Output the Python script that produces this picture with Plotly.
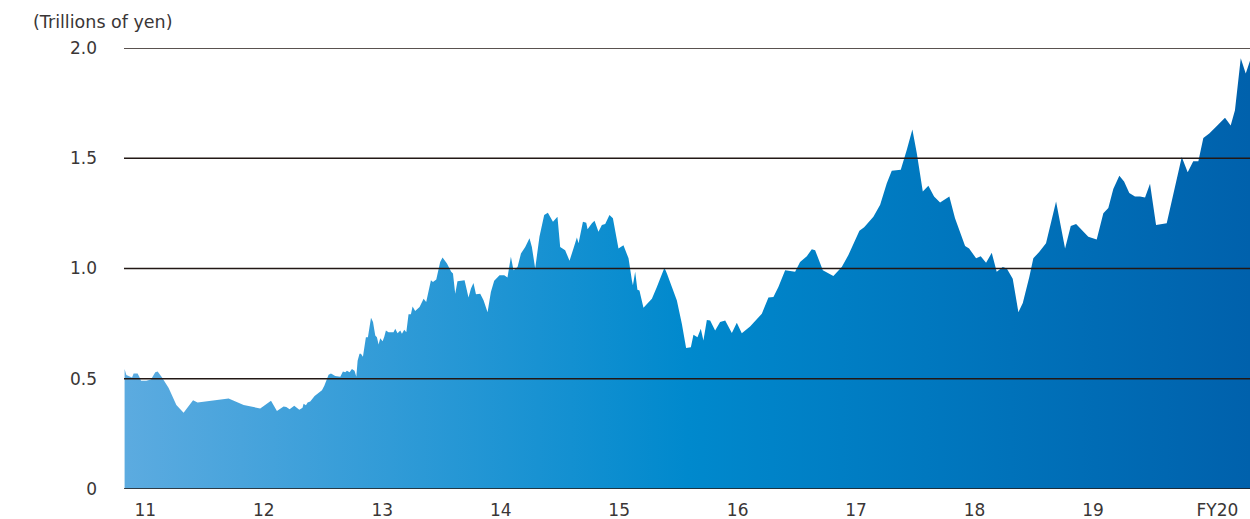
import plotly.graph_objects as go

# Fiscal-year position (11 = FY2011 label centre) and value in trillions of yen
fiscal_pos = [
    10.825, 10.840, 10.868, 10.888, 10.901, 10.935, 10.949, 10.964, 11.008, 11.048,
    11.084, 11.104, 11.141, 11.197, 11.262, 11.323, 11.403, 11.441, 11.703, 11.830,
    11.970, 12.061, 12.111, 12.167, 12.190, 12.218, 12.257, 12.300, 12.327, 12.336,
    12.356, 12.370, 12.392, 12.429, 12.491, 12.511, 12.547, 12.567, 12.603, 12.646,
    12.668, 12.688, 12.702, 12.724, 12.744, 12.766, 12.781, 12.792, 12.808, 12.820,
    12.837, 12.862, 12.879, 12.905, 12.922, 12.941, 12.955, 12.969, 12.983, 13.003,
    13.017, 13.031, 13.053, 13.095, 13.110, 13.129, 13.152, 13.166, 13.186, 13.203,
    13.222, 13.242, 13.256, 13.278, 13.315, 13.349, 13.371, 13.411, 13.428, 13.456,
    13.489, 13.509, 13.546, 13.582, 13.597, 13.616, 13.635, 13.695, 13.728, 13.749,
    13.770, 13.791, 13.827, 13.855, 13.889, 13.917, 13.945, 13.990, 14.030, 14.057,
    14.086, 14.108, 14.142, 14.171, 14.207, 14.243, 14.263, 14.291, 14.327, 14.367,
    14.398, 14.441, 14.479, 14.502, 14.544, 14.581, 14.614, 14.643, 14.657, 14.694,
    14.722, 14.733, 14.770, 14.792, 14.825, 14.854, 14.882, 14.918, 14.947, 14.994,
    15.036, 15.079, 15.107, 15.116, 15.135, 15.154, 15.171, 15.205, 15.276, 15.318,
    15.382, 15.403, 15.445, 15.487, 15.529, 15.565, 15.605, 15.627, 15.661, 15.689,
    15.711, 15.740, 15.768, 15.810, 15.852, 15.895, 15.951, 15.993, 16.035, 16.105,
    16.204, 16.260, 16.302, 16.344, 16.401, 16.485, 16.527, 16.584, 16.626, 16.654,
    16.719, 16.808, 16.879, 16.935, 17.028, 17.068, 17.146, 17.203, 17.259, 17.301,
    17.377, 17.428, 17.475, 17.512, 17.563, 17.610, 17.658, 17.709, 17.787, 17.835,
    17.920, 17.954, 18.013, 18.052, 18.097, 18.145, 18.187, 18.238, 18.272, 18.322,
    18.370, 18.407, 18.462, 18.496, 18.547, 18.603, 18.688, 18.764, 18.812, 18.857,
    18.960, 19.031, 19.087, 19.129, 19.171, 19.222, 19.262, 19.306, 19.354, 19.397,
    19.439, 19.481, 19.532, 19.622, 19.749, 19.799, 19.846, 19.889, 19.931, 19.981,
    20.030, 20.072, 20.114, 20.162, 20.198, 20.247, 20.289, 20.325,
]

values_trillion_yen = [
    0.544, 0.517, 0.510, 0.506, 0.524, 0.524, 0.509, 0.491, 0.491, 0.497,
    0.529, 0.533, 0.506, 0.458, 0.381, 0.346, 0.403, 0.392, 0.410, 0.381,
    0.365, 0.400, 0.354, 0.374, 0.372, 0.362, 0.377, 0.359, 0.369, 0.387,
    0.380, 0.392, 0.397, 0.422, 0.448, 0.468, 0.518, 0.524, 0.512, 0.509,
    0.533, 0.529, 0.536, 0.529, 0.544, 0.536, 0.509, 0.582, 0.613, 0.613,
    0.600, 0.688, 0.688, 0.777, 0.757, 0.696, 0.688, 0.655, 0.684, 0.670,
    0.691, 0.719, 0.711, 0.711, 0.727, 0.706, 0.719, 0.704, 0.722, 0.711,
    0.792, 0.792, 0.828, 0.807, 0.825, 0.863, 0.848, 0.947, 0.939, 0.950,
    1.030, 1.050, 1.023, 0.985, 0.977, 0.886, 0.942, 0.947, 0.868, 0.909,
    0.934, 0.883, 0.886, 0.856, 0.802, 0.893, 0.945, 0.969, 0.969, 0.959,
    1.053, 0.992, 1.007, 1.068, 1.098, 1.137, 1.098, 1.000, 1.144, 1.243,
    1.253, 1.212, 1.235, 1.098, 1.083, 1.035, 1.091, 1.141, 1.114, 1.212,
    1.208, 1.178, 1.205, 1.217, 1.167, 1.197, 1.202, 1.243, 1.228, 1.091,
    1.106, 1.046, 0.947, 0.924, 0.985, 0.904, 0.900, 0.822, 0.863, 0.916,
    1.003, 0.977, 0.916, 0.855, 0.749, 0.640, 0.643, 0.700, 0.688, 0.727,
    0.673, 0.767, 0.764, 0.719, 0.757, 0.764, 0.708, 0.754, 0.706, 0.737,
    0.795, 0.868, 0.871, 0.916, 0.992, 0.985, 1.030, 1.056, 1.087, 1.083,
    0.992, 0.966, 1.007, 1.061, 1.171, 1.187, 1.235, 1.289, 1.387, 1.443,
    1.448, 1.539, 1.630, 1.524, 1.349, 1.375, 1.326, 1.299, 1.326, 1.228,
    1.102, 1.091, 1.046, 1.056, 1.026, 1.071, 0.985, 1.007, 1.000, 0.954,
    0.802, 0.843, 0.962, 1.046, 1.076, 1.114, 1.304, 1.091, 1.193, 1.202,
    1.144, 1.132, 1.251, 1.274, 1.360, 1.421, 1.395, 1.342, 1.326, 1.326,
    1.322, 1.384, 1.197, 1.205, 1.506, 1.436, 1.486, 1.486, 1.592, 1.612,
    1.638, 1.661, 1.684, 1.649, 1.718, 1.953, 1.884, 1.942,
]

x_tick_vals = [11, 12, 13, 14, 15, 16, 17, 18, 19, 20.05]
x_tick_text = ["11", "12", "13", "14", "15", "16", "17", "18", "19", "FY20"]
y_tick_vals = [0, 0.5, 1.0, 1.5, 2.0]
y_tick_text = ["0", "0.5", "1.0", "1.5", "2.0"]
unit_label = "(Trillions of yen)"

TEXT = "#3a3636"
FONT = "DejaVu Sans, Liberation Sans, sans-serif"

fig = go.Figure()
fig.add_trace(go.Scatter(
    x=fiscal_pos,
    y=values_trillion_yen,
    mode="none",
    fill="tozeroy",
    fillgradient=dict(
        type="horizontal",
        colorscale=[[0.0, "#5CABE0"], [0.5, "#0089CD"], [1.0, "#0061AC"]],
    ),
    hoverinfo="skip",
    showlegend=False,
))

# grid lines drawn above the area
for yv in y_tick_vals[1:]:
    fig.add_shape(type="line", xref="paper", yref="y", x0=0, x1=1, y0=yv, y1=yv,
                  line=dict(color="#231815", width=1.3), layer="above")
fig.add_shape(type="line", xref="paper", yref="y", x0=0, x1=1, y0=0, y1=0,
              line=dict(color="#231815", width=1.6), layer="above")

fig.add_annotation(text=unit_label, xref="paper", yref="paper",
                   x=-0.0825, y=1.06, xanchor="left", yanchor="middle",
                   showarrow=False, font=dict(size=17.5, color=TEXT, family=FONT))

fig.update_layout(
    width=1250, height=519,
    margin=dict(l=124, r=0, t=48, b=30),
    paper_bgcolor="white", plot_bgcolor="white",
    font=dict(family=FONT, size=17, color=TEXT),
    xaxis=dict(range=[10.82, 20.325], tickvals=x_tick_vals, ticktext=x_tick_text,
               showgrid=False, zeroline=False, showline=False, ticks="",
               ticklabelstandoff=9, fixedrange=True),
    yaxis=dict(range=[0, 2.0], tickvals=y_tick_vals, ticktext=y_tick_text,
               showgrid=False, zeroline=False, showline=False, ticks="",
               ticklabelstandoff=26, fixedrange=True),
)

fig.write_html(
    "out.html",
    config={"displayModeBar": False},
    post_script="document.body.style.margin='0';document.body.style.overflow='hidden';",
)
